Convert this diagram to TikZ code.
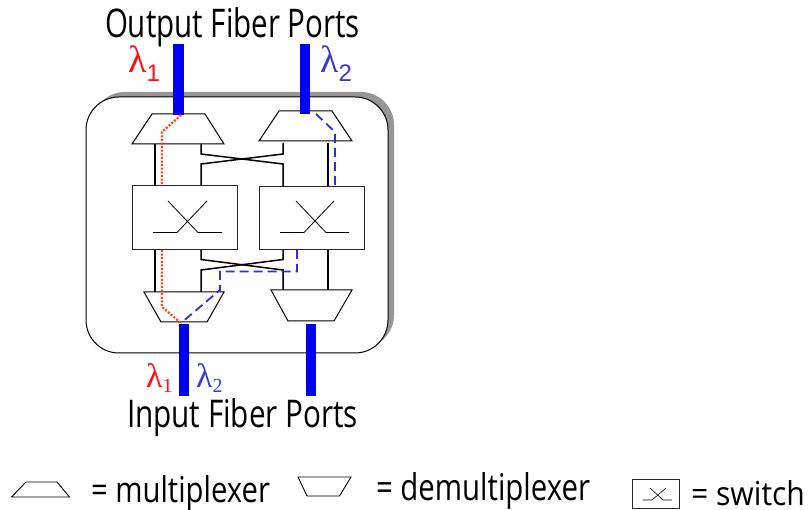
\documentclass[tikz,border=0pt]{standalone}
\usepackage{fontspec}
\setmainfont{Open Sans}[FontFace={l}{n}{Font=* Light}]
\newfontfamily\lamfont{Liberation Serif}
\newfontfamily\subfont{Liberation Sans}
\definecolor{fiberblue}{HTML}{0000F0}
\definecolor{lamred}{HTML}{FF1010}
\definecolor{lamblue}{HTML}{3A3AC8}
\definecolor{pathred}{HTML}{FF4010}
\definecolor{pathblue}{HTML}{3030D0}
\definecolor{shadowgray}{HTML}{969696}
\newcommand{\fitlabel}[3]{\resizebox{#1pt}{#2pt}{#3}}
\tikzset{
  fiber/.style={fill=fiberblue,draw=none},
  shell/.style={draw=black,line width=1pt,fill=white,rounded corners=33pt},
  shellshadow/.style={fill=shadowgray,draw=none,rounded corners=33pt},
  muxbox/.style={draw=black,line width=1pt,fill=white},
  swbox/.style={draw=black!85,line width=1pt,fill=white,rectangle,inner sep=0pt},
  swline/.style={draw=black,line width=0.8pt},
  wire/.style={draw=black,line width=1.5pt},
  redpath/.style={draw=pathred,line width=2.2pt,dash pattern=on 2pt off 1.6pt},
  bluepath/.style={draw=pathblue,line width=1.8pt,dash pattern=on 9pt off 5pt},
  lbl/.style={inner sep=0pt,outer sep=0pt,anchor=west,black},
}
\begin{document}
\begin{tikzpicture}[x=1pt,y=-1pt]
\useasboundingbox (0,0) rectangle (812,510);
% enclosure
\path[shellshadow] (92,92) rectangle (394,348);
\path[shell] (86,97) rectangle (388,353);
% fibres
\path[fiber] (172.5,44) rectangle (183.7,115);
\path[fiber] (300,44) rectangle (310,114);
\path[fiber] (179.3,324) rectangle (189,396);
\path[fiber] (306,324) rectangle (316,396);
% mux / demux
\draw[muxbox] (152,114) -- (205,114) -- (224,144) -- (132,144) -- cycle;
\draw[muxbox] (279,111) -- (332,111) -- (352,141) -- (259,141) -- cycle;
\draw[muxbox] (144,292) -- (224,292) -- (207,322) -- (161,322) -- cycle;
\draw[muxbox] (271,290) -- (352,290) -- (334,321) -- (288,321) -- cycle;
\path[fiber] (172.5,100) rectangle (183.7,115);
\path[fiber] (300,100) rectangle (310,114);
% switches
\node[swbox,minimum width=105pt,minimum height=64pt] (swa) at (184.5,218) {};
\node[swbox,minimum width=105pt,minimum height=63.5pt] (swb) at (311.5,217.8) {};
\draw[swline] (153,232.5) -- (177,232.5) -- (207,201);
\draw[swline] (222,232.5) -- (198,232.5) -- (168,201);
\draw[swline] (280,232.5) -- (304,232.5) -- (334,201);
\draw[swline] (349,232.5) -- (326,232.5) -- (296,201);
% named wire ends
\coordinate (ma1) at (155,144); \coordinate (ma2) at (201,144);
\coordinate (mb1) at (283,143); \coordinate (mb2) at (328,143);
\coordinate (sa1) at (155,186); \coordinate (sa2) at (201,186);
\coordinate (sb1) at (283,186); \coordinate (sb2) at (328,186);
\coordinate (ta1) at (155,250); \coordinate (ta2) at (201,250);
\coordinate (tb1) at (283,250); \coordinate (tb2) at (328,250);
\coordinate (da1) at (155,292); \coordinate (da2) at (201,292);
\coordinate (db1) at (283,290); \coordinate (db2) at (328,290);
% wires
\draw[wire] (ma1) -- (sa1);
\draw[wire] (mb2) -- (sb2);
\draw[wire] (ma2) -- (201,154) -- (283,164) -- (sb1);
\draw[wire] (mb1) -- (283,154) -- (201,164) -- (sa2);
\draw[wire] (ta1) -- (da1);
\draw[wire] (tb2) -- (db2);
\draw[wire] (ta2) -- (201,259.5) -- (283,270) -- (db1);
\draw[wire] (tb1) -- (283,259.5) -- (201,270) -- (da2);
% lightpaths
\draw[redpath] (181,115) -- (162,132) -- (162,186);
\draw[redpath] (162,250) -- (162,307) -- (181,323);
\draw[bluepath] (316,114) -- (335,132) -- (335,186);
\draw[bluepath] (297,250) -- (297,271.5) -- (220,271.5) -- (220,290) -- (181,323);
% wavelength labels
\node[inner sep=0pt,anchor=west,text=lamred] (l1a) at (128,64) {\fontsize{38}{38}\selectfont\lamfont λ\raisebox{-9pt}{\subfont\fontsize{24}{24}\selectfont 1}};
\node[inner sep=0pt,anchor=west,text=lamblue] (l2a) at (320,64) {\fontsize{38}{38}\selectfont\lamfont λ\raisebox{-9pt}{\subfont\fontsize{24}{24}\selectfont 2}};
\node[inner sep=0pt,anchor=west,text=lamred] (l1b) at (146,378) {\fontsize{34}{34}\selectfont\lamfont λ\raisebox{-5pt}{\fontsize{20}{20}\selectfont 1}};
\node[inner sep=0pt,anchor=west,text=lamblue] (l2b) at (196,378) {\fontsize{34}{34}\selectfont\lamfont λ\raisebox{-5pt}{\fontsize{20}{20}\selectfont 2}};
% titles
\node[lbl] (outtitle) at (105,27) {\fitlabel{255}{30}{Output Fiber Ports}};
\node[lbl] (intitle) at (127,417.5) {\fitlabel{231}{29}{Input Fiber Ports}};
% legend
\draw[muxbox,line width=0.9pt] (26,482) -- (57,482) -- (69.5,497) -- (11.5,497) -- cycle;
\node[lbl] (muxtxt) at (91,493) {\fitlabel{179}{27}{= multiplexer}};
\draw[muxbox,line width=0.9pt] (298,477) -- (351,477) -- (339.5,496) -- (307,496) -- cycle;
\node[lbl] (demuxtxt) at (376,491) {\fitlabel{214}{28}{= demultiplexer}};
\node[swbox,minimum width=47pt,minimum height=29pt] (swleg) at (655.5,494) {};
\draw[swline,line width=0.6pt] (642.5,500) -- (652,500) -- (666,488);
\draw[swline,line width=0.6pt] (672,500) -- (663,500) -- (650,488);
\node[lbl] (swtxt) at (691,493) {\fitlabel{114}{25}{= switch}};
\end{tikzpicture}
\end{document}
